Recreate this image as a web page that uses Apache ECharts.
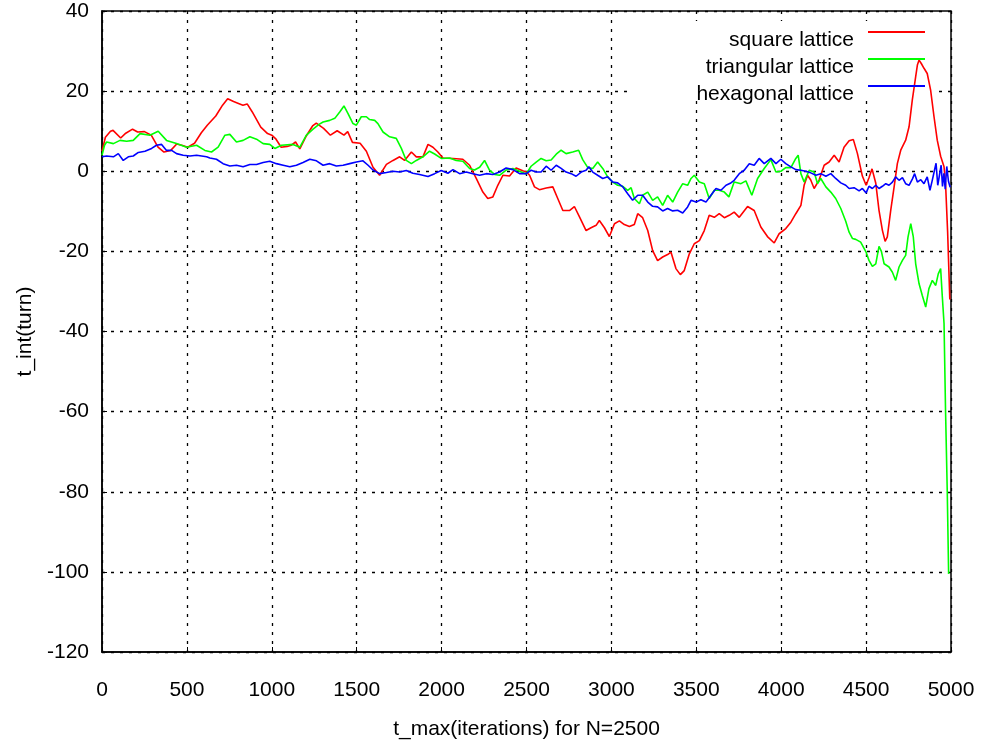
<!DOCTYPE html>
<html>
<head>
<meta charset="utf-8">
<script src="https://cdn.jsdelivr.net/npm/echarts@6/dist/echarts.min.js"></script>
<style>
  html, body { margin: 0; padding: 0; background: #fff; }
  #chart { width: 984px; height: 747px; }
</style>
</head>
<body>
<div id="chart"></div>
<script>
// t_int(turn) against t_max for three lattice types, N = 2500
const seriesNames = ['square lattice', 'triangular lattice', 'hexagonal lattice'];
const xTicks = [0, 500, 1000, 1500, 2000, 2500, 3000, 3500, 4000, 4500, 5000];
const yTicks = [-120, -100, -80, -60, -40, -20, 0, 20, 40];

const squareLattice = [
  [0,5],[20,8.5],[50,10],[65,10.2],[110,8.3],[140,9.5],[180,10.5],[210,9.8],[250,9.9],[290,9],
  [330,6],[365,4.8],[405,5.2],[440,6.8],[470,6.5],[505,6],[545,7],[585,9.6],[620,11.5],[670,13.8],
  [710,16.5],[740,18.1],[775,17.4],[800,17],[830,16.5],[855,16.8],[885,14.8],[935,11],[975,9.4],[1000,9],
  [1025,8],[1055,6],[1090,6.2],[1115,6.5],[1140,7.3],[1165,5.6],[1200,8.6],[1240,11.3],[1262,12],[1305,10.7],
  [1345,9],[1385,10.1],[1425,9],[1447,9.9],[1475,7.2],[1520,7],[1557,5],[1596,1],[1635,-1],[1675,1.7],
  [1714,2.7],[1753,3.6],[1782,2.7],[1822,4.8],[1851,3.6],[1890,3.6],[1920,6.7],[1949,6],[1978,4.8],[2008,3.3],
  [2067,3.2],[2125,3],[2165,1.5],[2204,-1.8],[2243,-5.2],[2272,-6.8],[2302,-6.4],[2331,-3.5],[2361,-1],[2400,-1.2],
  [2439,0.8],[2478,0.1],[2500,-0.2],[2518,-1],[2547,-3.9],[2576,-4.6],[2616,-4.2],[2655,-3.9],[2684,-6.8],[2714,-9.8],
  [2753,-9.8],[2782,-8.8],[2812,-11.4],[2851,-14.8],[2880,-14.1],[2910,-13.5],[2929,-12.3],[2959,-14.1],[2988,-16.3],[3018,-13.1],
  [3047,-12.4],[3076,-13.3],[3106,-13.8],[3135,-13.3],[3155,-10.6],[3184,-11.6],[3214,-14.8],[3243,-19.8],[3272,-22.3],[3302,-21.4],
  [3331,-20.8],[3351,-20.2],[3380,-24.3],[3406,-25.8],[3429,-24.8],[3459,-20.6],[3488,-18.1],[3518,-17.3],[3547,-14.8],[3576,-11],
  [3606,-11.5],[3635,-10.6],[3665,-11.6],[3694,-11],[3723,-10.2],[3753,-11.5],[3802,-8.8],[3841,-9.8],[3880,-13.9],[3919,-16.3],
  [3959,-17.9],[3988,-15.6],[4027,-14.3],[4057,-12.7],[4086,-10.6],[4116,-8.5],[4135,-3.5],[4155,-1],[4174,-2.2],[4194,-4.3],
  [4223,-2.2],[4253,1.5],[4282,2.3],[4312,4],[4341,2.3],[4370,6],[4400,7.6],[4425,7.9],[4449,4.4],[4478,-1.2],
  [4500,-3.5],[4517,-1.6],[4535,0.6],[4557,-3],[4576,-9.75],[4596,-14.75],[4612,-17.5],[4625,-16.4],[4645,-9.75],[4665,-3.9],
  [4684,1.9],[4704,5.25],[4733,7.75],[4753,11.1],[4772,17.75],[4792,23.6],[4802,26.5],[4812,27.75],[4825,26.9],[4841,25.7],
  [4860,24.4],[4880,20.25],[4900,13.6],[4919,7.75],[4939,3.75],[4949,3.5],[4959,1.1],[4968,-3.1],[4980,-15],[4993,-32]
];

const triangularLattice = [
  [0,4],[15,6.5],[27,7.3],[67,6.9],[106,7.7],[145,7.5],[184,7.7],[224,9.4],[282,9],[331,10],
  [380,7.7],[439,6.9],[498,6],[557,6.5],[606,5.2],[645,4.8],[684,6],[724,9],[753,9.2],[792,7.3],
  [831,7.7],[871,8.6],[910,8],[949,6.9],[988,6.7],[1018,5.7],[1057,6.5],[1125,6.7],[1165,6],[1204,9],
  [1243,10.5],[1278,11.7],[1302,12.3],[1341,12.7],[1371,13.2],[1400,14.8],[1425,16.3],[1449,14.4],[1478,11.9],[1498,11.5],
  [1527,13.6],[1557,13.6],[1576,12.9],[1606,12.7],[1625,11.9],[1655,9.8],[1694,8.6],[1733,8.2],[1763,5.7],[1792,2.7],
  [1822,1.9],[1851,2.7],[1890,3.6],[1929,5],[1959,4.3],[1998,3.2],[2047,3.3],[2086,2.7],[2125,2.5],[2165,0.7],
  [2194,0.3],[2224,1],[2253,2.7],[2282,0.3],[2312,-0.8],[2341,-1],[2380,0.3],[2420,0.7],[2459,0],[2498,-0.7],
  [2527,1.25],[2557,2.3],[2586,3.2],[2616,2.6],[2645,2.8],[2675,4.25],[2704,5.25],[2733,4.4],[2772,4.8],[2807,5.25],
  [2831,2.9],[2861,0.9],[2890,0.7],[2919,2.3],[2949,0.7],[2978,-1.4],[3008,-2.7],[3037,-3.5],[3067,-3.75],[3096,-4.75],
  [3116,-4.1],[3135,-6.8],[3165,-8.1],[3184,-6],[3214,-5.2],[3243,-7.25],[3272,-6.4],[3302,-8.5],[3331,-6],[3361,-7.7],
  [3390,-5.2],[3420,-3.1],[3449,-3.5],[3469,-1.8],[3488,-1],[3518,-2.7],[3547,-3.1],[3576,-6.8],[3606,-4.75],[3635,-4.75],
  [3665,-5.2],[3692,-6.4],[3723,-2.7],[3763,-3.1],[3792,-2.4],[3827,-6],[3861,-1.8],[3900,0.7],[3939,2.9],[3969,-0.2],
  [3998,0],[4027,0.9],[4057,0.9],[4086,3.2],[4100,4],[4116,-0.6],[4135,-2.7],[4165,0.25],[4194,-0.2],[4214,-3.1],
  [4233,-1.8],[4263,-3.9],[4292,-5.2],[4321,-6.8],[4351,-9.3],[4380,-12.5],[4400,-15.2],[4420,-16.8],[4439,-17],[4468,-17.7],
  [4500,-20.2],[4517,-22.25],[4537,-23.75],[4557,-23.1],[4576,-18.75],[4590,-20],[4606,-23.1],[4635,-23.9],[4655,-25.2],[4674,-27.25],
  [4694,-23.9],[4714,-22.25],[4733,-21],[4747,-16.4],[4763,-13.1],[4778,-16.4],[4792,-23.1],[4812,-28.1],[4831,-31],[4851,-33.9],
  [4870,-29.3],[4890,-27.25],[4910,-28.5],[4925,-25.6],[4939,-24.3],[4949,-31.4],[4959,-38],[4968,-60],[4978,-80],[4986,-100.5]
];

const hexagonalLattice = [
  [0,3.6],[27,3.8],[67,3.6],[96,4.4],[125,2.7],[155,3.6],[184,3.8],[214,4.7],[253,5],[292,5.7],
  [321,6.5],[351,6.7],[380,5.2],[410,5.2],[439,4.4],[478,4],[518,3.8],[557,4],[616,3.6],[635,3.3],
  [674,3],[713,1.9],[753,1.3],[792,1.5],[831,1.1],[871,1.7],[910,1.7],[949,2.2],[988,2.5],[1027,1.9],
  [1067,1.5],[1106,1.1],[1145,1.5],[1184,2.2],[1224,3],[1263,2.6],[1302,1.5],[1341,1.9],[1380,1.3],[1420,1.5],
  [1459,1.9],[1498,2.3],[1537,2.6],[1567,1.5],[1596,0.3],[1635,-0.6],[1675,-0.3],[1714,0],[1753,-0.2],[1792,0.2],
  [1831,-0.5],[1870,-0.8],[1920,-1.3],[1959,-0.6],[1998,0.2],[2037,-0.5],[2067,0.4],[2106,-0.6],[2145,-0.2],[2184,-0.6],
  [2224,-1],[2263,-0.6],[2302,-0.8],[2341,-0.2],[2380,0.8],[2420,0.4],[2459,-0.6],[2498,-0.6],[2527,0.25],[2557,-0.2],
  [2586,-0.2],[2616,1.25],[2645,0.25],[2675,1.5],[2704,0.7],[2733,-0.2],[2763,-0.6],[2792,-1.25],[2822,-0.2],[2851,0.25],
  [2867,1.1],[2890,-0.2],[2919,-1],[2949,-1.8],[2978,-1.4],[3008,-2.7],[3037,-2.9],[3067,-3.9],[3096,-5.6],[3125,-7.25],
  [3155,-6],[3184,-6],[3214,-7.7],[3243,-8.75],[3272,-8.9],[3302,-9.9],[3331,-9.3],[3361,-9.9],[3390,-9.75],[3420,-10.4],
  [3449,-8.9],[3469,-7.25],[3498,-7.7],[3527,-7.1],[3557,-7.7],[3586,-6],[3616,-4.3],[3645,-4.75],[3675,-3.5],[3700,-3],
  [3723,-2.25],[3753,-0.6],[3782,0.25],[3812,1.9],[3841,1.5],[3870,3.2],[3900,1.9],[3939,3.2],[3969,1.9],[3998,3],
  [4027,1.9],[4057,1.1],[4086,0.4],[4116,0.25],[4145,0],[4174,-0.4],[4204,-1],[4233,-0.6],[4263,-1.25],[4292,-0.6],
  [4321,-1.8],[4351,-2.9],[4380,-3.5],[4400,-4.3],[4429,-4.1],[4459,-4.9],[4478,-4.3],[4500,-5.4],[4517,-3.75],[4537,-4.3],
  [4557,-3.5],[4576,-4.3],[4596,-3.75],[4616,-3.1],[4635,-3.5],[4655,-2.7],[4674,-1.4],[4694,-2.25],[4714,-1.6],[4733,-3.1],
  [4753,-3.5],[4773,-1.9],[4786,-0.6],[4802,-2.7],[4822,-2.1],[4841,-3.1],[4860,-1.4],[4876,-4.75],[4890,-2.2],[4904,0.5],
  [4912,2],[4922,-3.5],[4932,-1],[4942,1.5],[4950,-3.8],[4958,-0.5],[4966,-4.5],[4975,1.2],[4985,-2.5],[4995,-4]
];

const lineColors = ['#ff0000', '#00ff00', '#0000ff'];
const fontFamily = '"Liberation Sans", Arial, sans-serif';
const fontSize = 21;

const chart = echarts.init(document.getElementById('chart'), null, { renderer: 'canvas' });

const gridLine = { show: true, lineStyle: { color: '#000', width: 1.3, type: [3, 6] } };
const axisLine = { show: true, onZero: false, lineStyle: { color: '#000', width: 1.5 } };
const axisTick = { show: true, inside: true, length: 5, lineStyle: { color: '#000' } };

chart.setOption({
  animation: false,
  backgroundColor: '#fff',
  grid: {
    left: 102, top: 11, right: 33, bottom: 95,
    show: true, borderColor: '#000', borderWidth: 1.5, backgroundColor: 'transparent'
  },
  // blank key box, behind the curves
  graphic: [{
    type: 'rect', z: 1,
    shape: { x: 627, y: 21, width: 309, height: 75 },
    style: { fill: '#fff' }
  }],
  legend: {
    orient: 'vertical',
    right: 59, top: 28,
    align: 'right',
    padding: 0,
    itemWidth: 57, itemHeight: 18,
    itemGap: 3,
    // sample line sits in the upper part of the key row
    icon: 'path://M0,0H57V2H0Z M0,18L0.01,18',
    textStyle: {
      color: '#000', fontSize: fontSize, fontFamily: fontFamily,
      lineHeight: 24, padding: [0, 9, 0, 0]
    },
    data: seriesNames
  },
  xAxis: {
    type: 'value', min: xTicks[0], max: xTicks[xTicks.length - 1], interval: 500,
    name: 't_max(iterations) for N=2500',
    nameLocation: 'middle', nameGap: 67,
    nameTextStyle: { color: '#000', fontSize: fontSize, fontFamily: fontFamily },
    axisLine: axisLine,
    axisTick: axisTick,
    axisLabel: { color: '#000', fontSize: fontSize, fontFamily: fontFamily, margin: 28,
      formatter: v => String(v) },
    splitLine: gridLine
  },
  yAxis: {
    type: 'value', min: yTicks[0], max: yTicks[yTicks.length - 1], interval: 20,
    name: 't_int(turn)',
    nameLocation: 'middle', nameGap: 61,
    nameTextStyle: { color: '#000', fontSize: fontSize, fontFamily: fontFamily },
    axisLine: axisLine,
    axisTick: axisTick,
    axisLabel: { color: '#000', fontSize: fontSize, fontFamily: fontFamily, margin: 13,
      formatter: v => String(v) },
    splitLine: gridLine
  },
  series: [squareLattice, triangularLattice, hexagonalLattice].map((d, i) => ({
    name: seriesNames[i],
    type: 'line',
    data: d,
    showSymbol: false,
    symbol: 'none',
    color: lineColors[i],
    lineStyle: { width: 1.6, color: lineColors[i] },
    z: 2
  }))
});
</script>
</body>
</html>
